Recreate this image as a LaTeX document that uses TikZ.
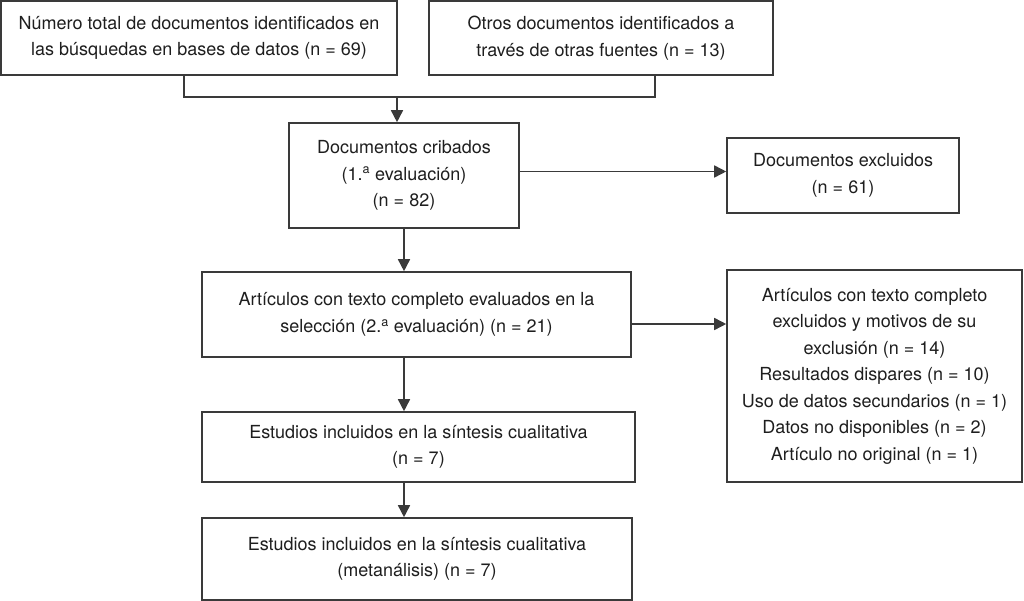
\documentclass[tikz,border=0pt]{standalone}
\usepackage{fontspec}
\setmainfont{TeX Gyre Heros}
\usetikzlibrary{arrows.meta}
\definecolor{linegray}{HTML}{3A3A3A}
\definecolor{txt}{HTML}{1E1E1E}
\begin{document}
\begin{tikzpicture}[x=1pt,y=-1pt,
  box/.style={draw=linegray, line width=1.6pt, align=center, inner sep=0pt,
    font=\fontsize{18}{26.5}\selectfont, text=txt},
  arr/.style={draw=linegray, line width=1.6pt, -{Triangle[length=12pt,width=12pt]}},
  ln/.style={draw=linegray, line width=1.6pt}]
\useasboundingbox (0,0) rectangle (1024,601);

\node[box, minimum width=396pt, minimum height=74pt] (b1) at (199,38)
  {Número total de documentos identificados en\\las búsquedas en bases de datos (n = 69)};
\node[box, minimum width=344pt, minimum height=74pt] (b2) at (601,38)
  {Otros documentos identificados a\\través de otras fuentes (n = 13)};
\node[box, minimum width=230pt, minimum height=105pt] (b3) at (404,175.5)
  {Documentos cribados\\(1.\textsuperscript{a} evaluación)\\(n = 82)};
\node[box, minimum width=232pt, minimum height=75pt] (b4) at (843,175.5)
  {Documentos excluidos\\(n = 61)};
\node[box, minimum width=429pt, minimum height=85pt] (b5) at (416.5,314.5)
  {Artículos con texto completo evaluados en la\\selección (2.\textsuperscript{a} evaluación) (n = 21)};
\node[box, minimum width=295pt, minimum height=212pt] (b6) at (874.5,376)
  {Artículos con texto completo\\excluidos y motivos de su\\exclusión (n = 14)\\Resultados dispares (n = 10)\\Uso de datos secundarios (n = 1)\\Datos no disponibles (n = 2)\\Artículo no original (n = 1)};
\node[box, minimum width=433pt, minimum height=70pt] (b7) at (418.5,447)
  {Estudios incluidos en la síntesis cualitativa\\(n = 7)};
\node[box, minimum width=430pt, minimum height=82pt] (b8) at (417,559)
  {Estudios incluidos en la síntesis cualitativa\\(metanálisis) (n = 7)};

\coordinate (j1) at (184,97);
\coordinate (j2) at (655,97);
\coordinate (jm) at (397,97);
\draw[ln] (b1.south -| j1) -- (j1) -- (j2) -- (b2.south -| j2);
\draw[arr] (jm) -- (jm |- b3.north);
\draw[arr] ([yshift=4pt]b3.east) -- ([yshift=4pt]b4.west);
\draw[arr] (b3.south) -- (b3.south |- b5.north);
\draw[arr] ([yshift=-9.5pt]b5.east) -- ([yshift=-9.5pt]b5.east -| b6.west);
\draw[arr] (b3.south |- b5.south) -- (b3.south |- b7.north);
\draw[arr] (b3.south |- b7.south) -- (b3.south |- b8.north);
\end{tikzpicture}
\end{document}
